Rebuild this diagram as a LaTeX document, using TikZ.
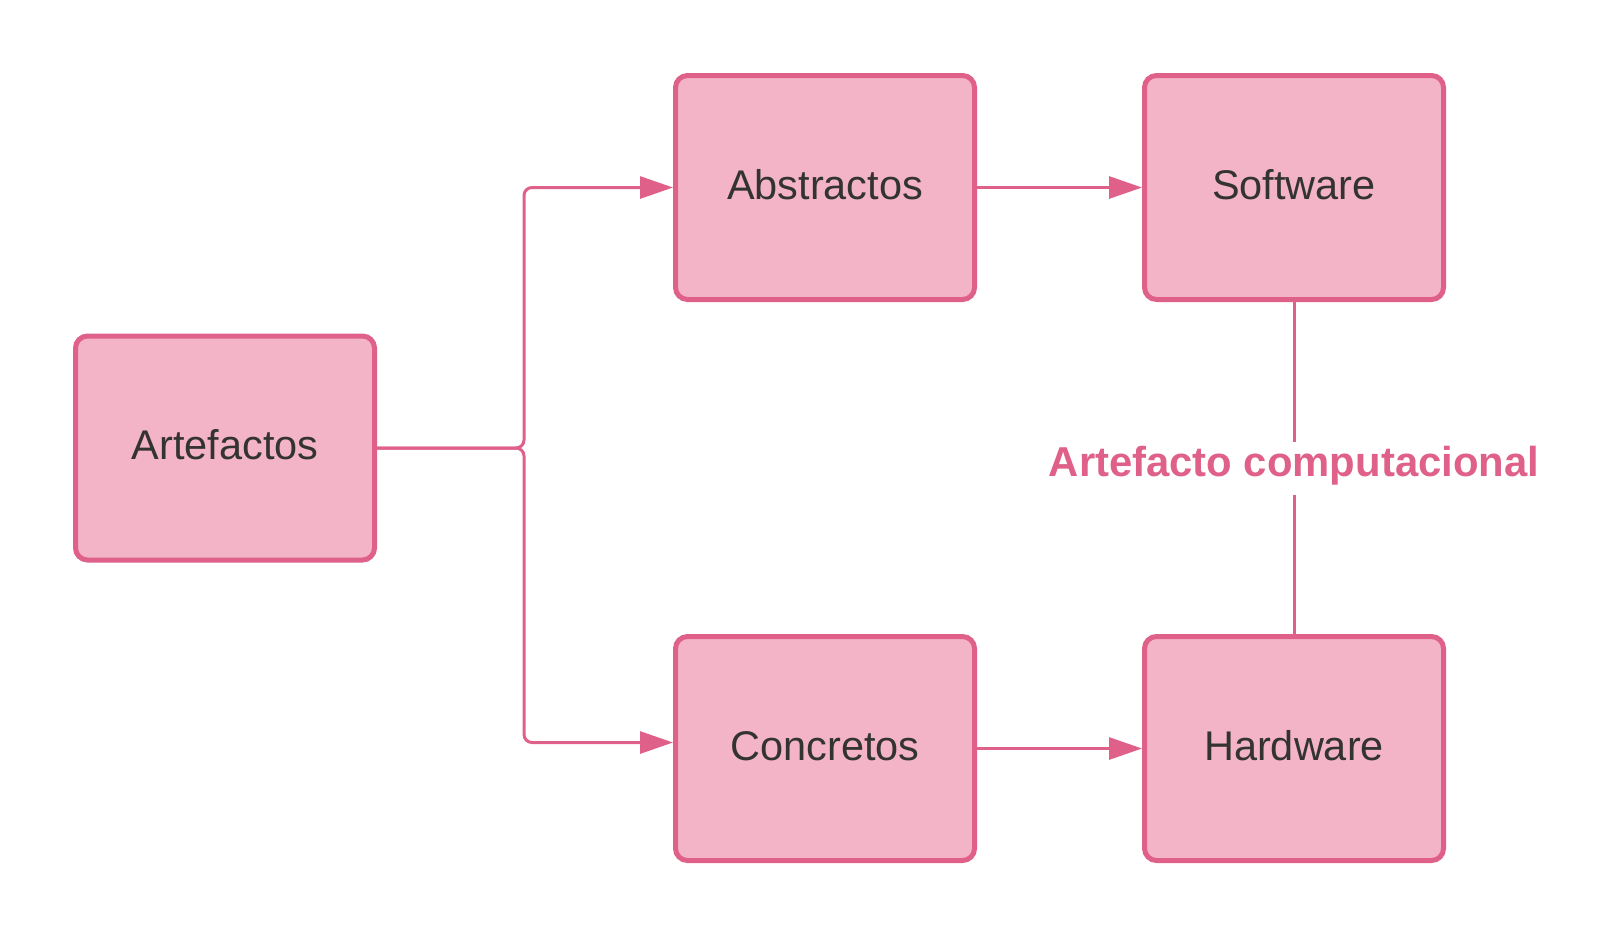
\documentclass[tikz,border=0pt]{standalone}
\usepackage{fontspec}
\setmainfont{Liberation Sans}
\usepackage{xcolor}
\definecolor{PinkLine}{HTML}{DF6088}
\definecolor{PinkFill}{HTML}{F3B4C7}
\definecolor{DarkText}{HTML}{333333}
\usepackage{tikz}
\usetikzlibrary{arrows.meta,positioning}
\tikzset{
  artbox/.style={
    draw=PinkLine,
    fill=PinkFill,
    rounded corners=0.12cm,
    line width=0.05cm,
    minimum width=2.99cm,
    minimum height=2.24cm,
    align=center,
    text=DarkText,
    font=\fontsize{11.8}{14}\selectfont,
    inner sep=0pt,
    text height=0.33cm,
    text depth=0.10cm
  },
  artlabel/.style={
    text=PinkLine,
    font=\fontsize{11.9}{14}\selectfont\bfseries,
    inner sep=0pt,
    text height=0.33cm,
    text depth=0.18cm
  },
  artline/.style={
    draw=PinkLine,
    line width=0.03cm,
    rounded corners=0.08cm
  },
  artarrow/.style={
    artline,
    -{Triangle[length=0.33cm,width=0.22cm]}
  }
}

\begin{document}
\begin{tikzpicture}[x=1cm,y=1cm]
  \useasboundingbox (0,0) rectangle (16.14,-9.38);
  \node[artbox] (artef) at (2.25,-4.48) {Artefactos};
  \node[artbox] (abstr) at (8.25,-1.875) {Abstractos};
  \node[artbox] (concr) at (8.25,-7.485) {Concretos};
  \node[artbox] (softw) at (12.94,-1.875) {Software};
  \node[artbox] (hardw) at (12.94,-7.485) {Hardware};
  \node[artlabel,anchor=base] (compu) at (12.94,-4.76) {Artefacto computacional};
  \coordinate (split) at (5.24,-4.48);
  \draw[artarrow] (artef.east) -- (split) |- (abstr.west);
  \draw[artarrow] (artef.east) -- (split) |- ([yshift=0.06cm]concr.west);
  \draw[artarrow] (abstr) -- (softw);
  \draw[artarrow] (concr) -- (hardw);
  \draw[artline] (softw) -- (compu);
  \draw[artline] (compu) -- (hardw);
\end{tikzpicture}
\end{document}
